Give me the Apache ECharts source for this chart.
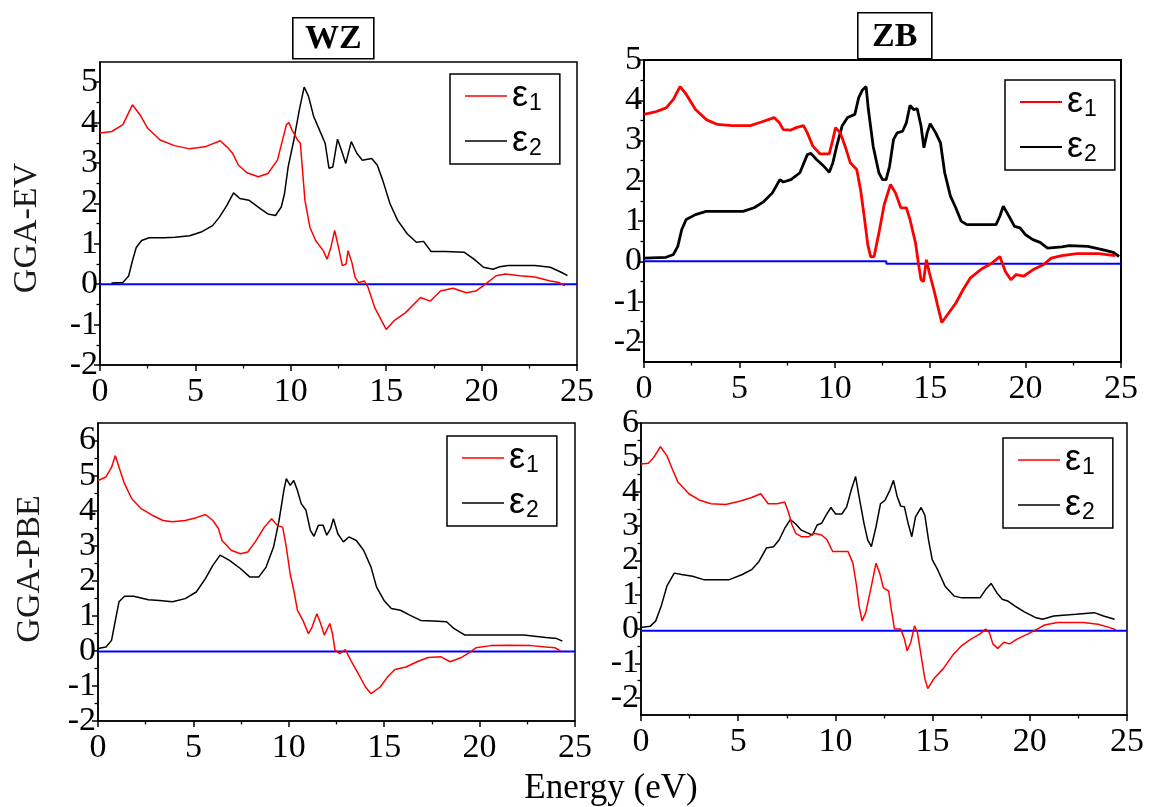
<!DOCTYPE html>
<html>
<head>
<meta charset="utf-8">
<script src="https://cdn.jsdelivr.net/npm/echarts@6/dist/echarts.min.js"></script>
<style>
  html, body { margin: 0; padding: 0; background: #fff; }
  #chart { width: 1149px; height: 807px; }
</style>
</head>
<body>
<div id="chart"></div>
<script>
// ---- Axis ticks ----
const energyTicks = [0, 5, 10, 15, 20, 25];
const evWzTicks = [-2, -1, 0, 1, 2, 3, 4, 5];
const evZbTicks = [-2, -1, 0, 1, 2, 3, 4, 5];
const pbeWzTicks = [-2, -1, 0, 1, 2, 3, 4, 5, 6];
const pbeZbTicks = [-2, -1, 0, 1, 2, 3, 4, 5, 6];

// ---- Axis extents [min, max] ----
const evWzRange = [-2, 5.5];
const evZbRange = [-2.5, 5];
const pbeWzRange = [-2, 6.5];
const pbeZbRange = [-2.5, 6];

// ---- Reference (zero) lines, [energy, value] ----
const evWzZero = [[0, 0], [25, 0]];
const evZbZero = [[0, 0], [12.7, 0], [12.7, -0.06], [25, -0.06]];
const pbeWzZero = [[0, -0.02], [25, -0.02]];
const pbeZbZero = [[0, -0.05], [25, -0.05]];

// ---- WZ, GGA-EV ----
const evWzEps1 = [[0,3.74],[0.62,3.78],[1.2,3.95],[1.7,4.44],[2.1,4.19],[2.5,3.86],[3.15,3.57],[3.9,3.43],[4.7,3.35],[5.5,3.4],[6.3,3.55],[6.65,3.4],[6.95,3.24],[7.25,2.95],[7.7,2.76],[8.3,2.66],[8.8,2.74],[9.3,3.07],[9.77,3.95],[9.9,4.0],[10.06,3.82],[10.35,3.57],[10.5,3.49],[10.74,2.08],[11.0,1.41],[11.3,1.08],[11.7,0.83],[11.9,0.62],[12.1,0.91],[12.3,1.33],[12.5,0.91],[12.7,0.46],[12.9,0.5],[13.0,0.83],[13.2,0.54],[13.37,0.17],[13.56,0.04],[13.85,0.08],[14.05,-0.08],[14.4,-0.58],[15.0,-1.12],[15.4,-0.91],[16.0,-0.71],[16.8,-0.33],[17.3,-0.42],[17.84,-0.17],[18.5,-0.1],[19.2,-0.21],[19.7,-0.17],[20.3,0.04],[20.76,0.21],[21.25,0.25],[22.0,0.21],[22.8,0.18],[23.6,0.08],[24.07,0.04],[24.36,-0.04]];
const evWzEps2 = [[0.6,0.03],[1.2,0.04],[1.5,0.2],[1.7,0.58],[1.9,0.91],[2.18,1.08],[2.57,1.15],[3.35,1.15],[3.93,1.16],[4.7,1.2],[5.3,1.29],[5.9,1.45],[6.26,1.66],[6.65,1.95],[7.0,2.26],[7.33,2.12],[7.8,2.08],[8.4,1.87],[8.8,1.74],[9.2,1.7],[9.5,1.91],[9.67,2.24],[9.86,2.9],[10.16,3.57],[10.45,4.32],[10.7,4.88],[10.93,4.65],[11.2,4.15],[11.5,3.82],[11.8,3.49],[12.0,2.87],[12.2,2.9],[12.45,3.59],[12.65,3.32],[12.88,2.99],[13.17,3.53],[13.46,3.24],[13.75,3.07],[14.24,3.11],[14.53,2.95],[14.82,2.57],[15.2,1.99],[15.6,1.58],[16.1,1.25],[16.58,1.04],[16.96,1.06],[17.35,0.81],[18.1,0.81],[19.1,0.79],[19.6,0.62],[20.1,0.42],[20.6,0.37],[20.95,0.43],[21.4,0.46],[22.8,0.46],[23.6,0.42],[24.2,0.29],[24.5,0.21]];

// ---- ZB, GGA-EV ----
const evZbEps1 = [[0,3.65],[0.58,3.71],[1.16,3.81],[1.54,4.02],[1.89,4.34],[2.21,4.15],[2.7,3.77],[3.26,3.52],[3.85,3.4],[4.61,3.37],[5.58,3.37],[6.15,3.46],[6.82,3.57],[7.1,3.44],[7.3,3.27],[7.7,3.26],[7.98,3.32],[8.36,3.37],[8.56,3.19],[8.85,2.86],[9.22,2.67],[9.71,2.67],[9.9,3.03],[10.04,3.32],[10.29,3.19],[10.54,2.86],[10.81,2.45],[11.15,2.28],[11.35,1.78],[11.54,1.12],[11.73,0.41],[11.88,0.11],[12.06,0.12],[12.31,0.7],[12.59,1.41],[12.92,1.91],[13.18,1.7],[13.46,1.33],[13.75,1.33],[13.94,1.04],[14.23,0.46],[14.38,-0.04],[14.52,-0.46],[14.65,-0.5],[14.8,0.04],[14.96,-0.29],[15.19,-0.7],[15.38,-1.08],[15.61,-1.52],[15.96,-1.29],[16.34,-1.04],[16.73,-0.7],[17.11,-0.41],[17.69,-0.19],[18.25,-0.04],[18.65,0.12],[18.94,-0.25],[19.23,-0.46],[19.51,-0.33],[19.9,-0.37],[20.38,-0.21],[20.95,-0.08],[21.34,0.08],[21.9,0.14],[22.69,0.19],[23.82,0.19],[24.7,0.14]];
const evZbEps2 = [[0,0.08],[1.16,0.1],[1.54,0.17],[1.77,0.37],[1.98,0.79],[2.21,1.04],[2.7,1.16],[3.26,1.24],[5.19,1.24],[5.77,1.33],[6.24,1.47],[6.73,1.7],[7.12,2.03],[7.3,1.97],[7.7,2.03],[8.17,2.2],[8.56,2.65],[8.75,2.68],[9.04,2.53],[9.43,2.36],[9.71,2.21],[9.9,2.45],[10.1,2.86],[10.38,3.36],[10.67,3.57],[11.05,3.65],[11.25,4.06],[11.44,4.25],[11.64,4.34],[11.76,3.77],[12.01,2.86],[12.31,2.2],[12.5,2.03],[12.69,2.03],[12.87,2.36],[13.08,3.03],[13.27,3.19],[13.55,3.23],[13.75,3.44],[13.94,3.87],[14.13,3.77],[14.32,3.79],[14.52,3.36],[14.67,2.82],[14.84,3.19],[15.0,3.42],[15.29,3.19],[15.54,2.94],[15.76,2.2],[16.06,1.62],[16.34,1.33],[16.62,1.0],[16.92,0.91],[18.45,0.91],[18.65,1.12],[18.83,1.37],[19.13,1.12],[19.42,0.87],[19.71,0.83],[20.0,0.66],[20.38,0.54],[20.76,0.47],[21.15,0.33],[21.9,0.36],[22.28,0.39],[23.26,0.37],[24.02,0.29],[24.6,0.22],[24.9,0.12]];

// ---- WZ, GGA-PBE ----
const pbeWzEps1 = [[0,4.86],[0.42,4.96],[0.71,5.24],[0.91,5.57],[1.1,5.24],[1.39,4.77],[1.77,4.34],[2.26,4.06],[2.84,3.87],[3.41,3.72],[3.9,3.68],[4.57,3.72],[5.15,3.8],[5.63,3.89],[6.02,3.72],[6.31,3.49],[6.5,3.15],[6.98,2.87],[7.46,2.77],[7.85,2.82],[8.24,3.11],[8.72,3.53],[9.1,3.77],[9.39,3.58],[9.68,3.53],[9.87,2.96],[10.07,2.2],[10.26,1.73],[10.45,1.16],[10.74,0.87],[11.03,0.49],[11.22,0.68],[11.47,1.06],[11.67,0.78],[11.86,0.45],[12.15,0.78],[12.29,0.49],[12.42,0.02],[12.67,-0.08],[12.96,0.04],[13.25,-0.27],[13.64,-0.65],[14.02,-1.03],[14.31,-1.22],[14.79,-1.03],[15.18,-0.74],[15.56,-0.53],[16.14,-0.46],[16.72,-0.31],[17.3,-0.19],[17.98,-0.17],[18.46,-0.31],[19.04,-0.19],[19.52,-0.03],[19.81,0.09],[20.58,0.15],[21.55,0.16],[22.7,0.15],[23.47,0.11],[23.95,0.09],[24.24,0]];
const pbeWzEps2 = [[0,0.07],[0.42,0.11],[0.71,0.3],[0.91,0.87],[1.1,1.4],[1.39,1.56],[1.87,1.56],[2.64,1.46],[3.22,1.44],[3.9,1.4],[4.57,1.49],[5.15,1.68],[5.63,2.06],[6.02,2.44],[6.4,2.73],[6.89,2.58],[7.46,2.35],[7.95,2.11],[8.43,2.11],[8.81,2.39],[9.2,2.96],[9.49,3.72],[9.74,4.58],[9.87,4.91],[10.07,4.72],[10.26,4.86],[10.45,4.58],[10.65,4.2],[10.9,4.01],[11.13,3.44],[11.32,3.27],[11.55,3.58],[11.8,3.58],[11.99,3.3],[12.19,3.49],[12.34,3.77],[12.57,3.34],[12.86,3.11],[13.15,3.25],[13.54,3.15],[13.92,2.87],[14.31,2.39],[14.6,1.82],[14.99,1.44],[15.37,1.21],[15.85,1.16],[16.34,1.02],[16.91,0.87],[17.59,0.85],[18.27,0.83],[18.65,0.64],[19.23,0.45],[19.9,0.45],[20.96,0.45],[22.31,0.45],[23.47,0.38],[24.05,0.35],[24.34,0.28]];

// ---- ZB, GGA-PBE ----
const pbeZbEps1 = [[0,4.81],[0.38,4.83],[0.66,5.0],[1.0,5.31],[1.33,5.05],[1.61,4.66],[1.9,4.28],[2.46,3.94],[3.03,3.75],[3.6,3.65],[4.36,3.63],[5.12,3.73],[5.69,3.83],[6.16,3.94],[6.54,3.65],[7.01,3.65],[7.39,3.7],[7.58,3.41],[7.77,3.03],[7.96,2.79],[8.25,2.69],[8.63,2.69],[8.91,2.79],[9.29,2.74],[9.57,2.6],[9.86,2.26],[10.43,2.26],[10.65,2.26],[10.9,1.92],[11.09,1.25],[11.22,0.67],[11.37,0.24],[11.56,0.48],[11.85,1.25],[12.09,1.92],[12.28,1.63],[12.47,1.2],[12.74,1.11],[12.85,0.67],[13.04,0],[13.36,0],[13.55,-0.29],[13.69,-0.63],[13.88,-0.38],[14.07,0.1],[14.22,-0.1],[14.41,-0.77],[14.6,-1.44],[14.75,-1.73],[15.07,-1.44],[15.55,-1.15],[16.02,-0.77],[16.5,-0.48],[16.97,-0.29],[17.44,-0.14],[17.73,0],[17.92,-0.1],[18.1,-0.43],[18.35,-0.56],[18.67,-0.38],[18.96,-0.43],[19.34,-0.29],[19.91,-0.14],[20.38,0],[20.76,0.12],[21.42,0.19],[22.75,0.19],[23.51,0.14],[24.08,0.05],[24.42,-0.02]];
const pbeZbEps2 = [[0,0.05],[0.47,0.08],[0.76,0.24],[1.04,0.67],[1.33,1.25],[1.71,1.63],[2.09,1.59],[2.65,1.54],[3.22,1.44],[4.55,1.44],[5.21,1.59],[5.69,1.73],[6.07,1.97],[6.45,2.36],[6.82,2.4],[7.11,2.6],[7.39,2.93],[7.68,3.19],[7.96,3.06],[8.25,2.88],[8.53,2.81],[8.82,2.74],[9.06,3.03],[9.29,3.08],[9.52,3.32],[9.77,3.54],[10.01,3.35],[10.33,3.35],[10.58,3.56],[10.81,4.04],[11.04,4.44],[11.22,3.85],[11.47,3.08],[11.66,2.6],[11.85,2.4],[12.09,2.98],[12.32,3.65],[12.55,3.75],[12.8,4.04],[12.99,4.33],[13.18,3.85],[13.36,3.58],[13.55,3.56],[13.74,3.08],[13.93,2.69],[14.12,3.27],[14.41,3.54],[14.6,3.32],[14.79,2.6],[14.98,2.02],[15.26,1.73],[15.64,1.25],[16.12,0.96],[16.5,0.91],[17.44,0.91],[17.73,1.15],[18.01,1.33],[18.3,1.06],[18.58,0.87],[18.86,0.82],[19.24,0.67],[19.72,0.5],[20.28,0.34],[20.66,0.29],[21.23,0.38],[22.37,0.43],[23.32,0.48],[23.79,0.38],[24.36,0.29]];

// ---- Labels ----
const panelTitles = ['WZ', 'ZB'];
const rowNames = ['GGA-EV', 'GGA-PBE'];
const energyLabel = 'Energy (eV)';
const eps1Name = 'ε1';
const eps2Name = 'ε2';

// ---- Layout of the four panels ----
const panels = [
  { grid: { left: 100, top: 62, width: 477, height: 303 }, ticks: evWzTicks, range: evWzRange,
    eps1: evWzEps1, eps2: evWzEps2, zero: evWzZero, lw: 1.5, frame: 1.5, legend: { left: 450, top: 74 } },
  { grid: { left: 644, top: 60, width: 477, height: 302 }, ticks: evZbTicks, range: evZbRange,
    eps1: evZbEps1, eps2: evZbEps2, zero: evZbZero, lw: 2.8, frame: 2, legend: { left: 1005, top: 80 } },
  { grid: { left: 98, top: 423, width: 477, height: 298 }, ticks: pbeWzTicks, range: pbeWzRange,
    eps1: pbeWzEps1, eps2: pbeWzEps2, zero: pbeWzZero, lw: 1.5, frame: 1.5, legend: { left: 447, top: 436 } },
  { grid: { left: 641, top: 423, width: 486, height: 292 }, ticks: pbeZbTicks, range: pbeZbRange,
    eps1: pbeZbEps1, eps2: pbeZbEps2, zero: pbeZbZero, lw: 1.5, frame: 1.5, legend: { left: 1003, top: 438 } }
];

const SERIF = '"Liberation Serif", "Times New Roman", serif';
// tick numbers, drawn through a rich-text token so the serif face sticks
const tickRich = { t: { fontFamily: SERIF, fontSize: 34, color: '#000', lineHeight: 34 } };
const tickFormat = v => '{t|' + v + '}';

const grids = [], xAxes = [], yAxes = [], series = [], legends = [];

panels.forEach((p, i) => {
  grids.push(Object.assign({ show: true, borderColor: '#000', borderWidth: p.frame, backgroundColor: 'transparent' }, p.grid));

  xAxes.push({
    type: 'value', gridIndex: i, min: energyTicks[0], max: energyTicks[energyTicks.length - 1], interval: 5,
    axisLine: { onZero: false, lineStyle: { color: '#000', width: p.frame } },
    axisTick: { length: 6, lineStyle: { color: '#000', width: 1.5 } },
    minorTick: { show: true, splitNumber: 2, length: 3.5, lineStyle: { color: '#000', width: 1.3 } },
    splitLine: { show: false }, minorSplitLine: { show: false },
    axisLabel: { margin: 10, showMinLabel: true, showMaxLabel: true, hideOverlap: false,
      fontFamily: SERIF, fontSize: 34, color: '#000', formatter: tickFormat, rich: tickRich }
  });

  // minor ticks halfway between the labelled ones
  const halfTicks = p.ticks.map(t => t + 0.5).concat([p.ticks[0] - 0.5])
    .filter(v => v > p.range[0] && v < p.range[1]);

  yAxes.push({
    type: 'value', gridIndex: i, min: p.range[0], max: p.range[1],
    axisLine: { onZero: false, lineStyle: { color: '#000', width: p.frame } },
    axisTick: { length: 6, customValues: p.ticks, lineStyle: { color: '#000', width: 1.5 } },
    splitLine: { show: false },
    axisLabel: { margin: 2, customValues: p.ticks, showMinLabel: true, showMaxLabel: true, hideOverlap: false,
      fontFamily: SERIF, fontSize: 34, color: '#000', formatter: tickFormat, rich: tickRich }
  });
  yAxes.push({
    type: 'value', gridIndex: i, min: p.range[0], max: p.range[1], position: 'left',
    axisLine: { show: false },
    axisTick: { length: 3.5, customValues: halfTicks, lineStyle: { color: '#000', width: 1.3 } },
    splitLine: { show: false },
    axisLabel: { show: false }
  });

  const ya = yAxes.length - 2;
  series.push({ type: 'line', name: 'zero', xAxisIndex: i, yAxisIndex: ya, data: p.zero,
    symbol: 'none', lineStyle: { color: '#0000ff', width: 2 }, silent: true, animation: false, z: 2 });
  series.push({ type: 'line', name: eps2Name, xAxisIndex: i, yAxisIndex: ya, data: p.eps2,
    symbol: 'none', showSymbol: false, color: '#000', lineStyle: { color: '#000', width: p.lw }, animation: false, z: 3 });
  series.push({ type: 'line', name: eps1Name, xAxisIndex: i, yAxisIndex: ya, data: p.eps1,
    symbol: 'none', showSymbol: false, color: '#ff0000', lineStyle: { color: '#ff0000', width: p.lw }, animation: false, z: 4 });

  const keyLine = i === 1 ? 2.2 : 1.6;
  legends.push({
    left: p.legend.left, top: p.legend.top, orient: 'vertical',
    data: [eps1Name, eps2Name], selectedMode: false,
    icon: 'rect', itemWidth: 42, itemHeight: keyLine,
    padding: [4, 18, 4, 15], itemGap: 8,
    borderColor: '#000', borderWidth: 1.5, backgroundColor: '#fff',
    formatter: n => '{e|' + n.charAt(0) + '}{s|' + n.slice(1) + '}',
    textStyle: {
      rich: {
        e: { fontFamily: '"Liberation Sans", Arial, sans-serif', fontSize: 36, color: '#000', lineHeight: 38, verticalAlign: 'middle' },
        s: { fontFamily: '"Liberation Sans", Arial, sans-serif', fontSize: 23, color: '#000', lineHeight: 38, verticalAlign: 'bottom', padding: [0, 0, 0, 1] }
      }
    }
  });
});

// Panel titles in boxes, row names and the shared energy label
function boxedTitle(text, x, y, w, h) {
  return {
    type: 'group', left: x, top: y,
    children: [
      { type: 'rect', shape: { x: 0, y: 0, width: w, height: h }, style: { fill: '#fff', stroke: '#000', lineWidth: 1.6 } },
      { type: 'text', x: w / 2, y: h / 2 + 1, style: { text: text, fill: '#000', font: 'bold 34px ' + SERIF, align: 'center', verticalAlign: 'middle' } }
    ]
  };
}

const graphics = [
  boxedTitle(panelTitles[0], 292, 17, 81, 41),
  boxedTitle(panelTitles[1], 857, 12, 74, 46),
  { type: 'text', x: 27, y: 228, rotation: Math.PI / 2,
    style: { text: rowNames[0], fill: '#1a1a1a', font: '34px ' + SERIF, align: 'center', verticalAlign: 'middle' } },
  { type: 'text', x: 30, y: 569, rotation: Math.PI / 2,
    style: { text: rowNames[1], fill: '#1a1a1a', font: '34px ' + SERIF, align: 'center', verticalAlign: 'middle' } },
  { type: 'text', x: 611, y: 789,
    style: { text: energyLabel, fill: '#000', font: '35px ' + SERIF, align: 'center', verticalAlign: 'middle' } }
];

const chart = echarts.init(document.getElementById('chart'), null, { renderer: 'canvas' });
chart.setOption({
  backgroundColor: '#fff',
  animation: false,
  textStyle: { fontFamily: SERIF, color: '#000' },
  grid: grids,
  xAxis: xAxes,
  yAxis: yAxes,
  legend: legends,
  series: series,
  graphic: graphics
});
</script>
</body>
</html>
